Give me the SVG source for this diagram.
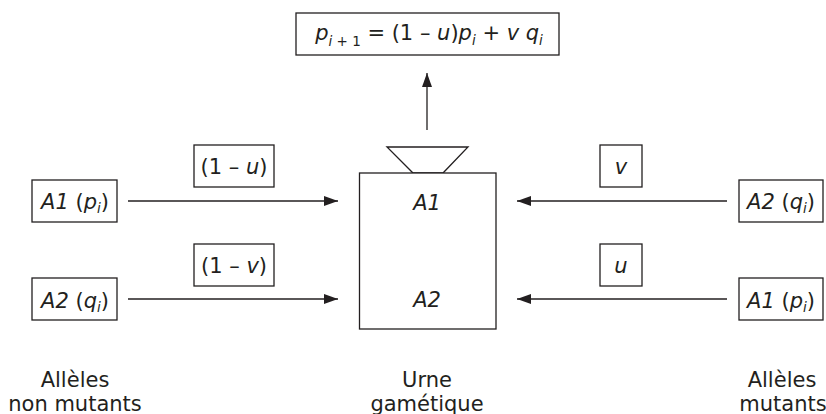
<svg xmlns="http://www.w3.org/2000/svg" width="826" height="414" viewBox="0 0 826 414">
<style>
.box{fill:#fff;stroke:#231f20;stroke-width:1.3}
.ln{stroke:#231f20;stroke-width:1.3;fill:none}
text{font-family:"DejaVu Sans","Noto Sans","Liberation Sans",sans-serif;font-size:21px;fill:#231f20;text-anchor:middle}
.it{font-style:italic}
.sub{font-size:13.5px;font-style:italic}
.up{font-style:normal}
</style>
<defs>
<marker id="ah" markerWidth="14" markerHeight="10" refX="14" refY="5" orient="auto" markerUnits="userSpaceOnUse">
<path d="M0,0 L14,5 L0,10 Z" fill="#231f20"/>
</marker>
</defs>
<g id="connectors">
<line class="ln" x1="128" y1="201" x2="338" y2="201" marker-end="url(#ah)"/>
<line class="ln" x1="128" y1="299" x2="338" y2="299" marker-end="url(#ah)"/>
<line class="ln" x1="727" y1="201" x2="517" y2="201" marker-end="url(#ah)"/>
<line class="ln" x1="727" y1="299" x2="517" y2="299" marker-end="url(#ah)"/>
<line class="ln" x1="427" y1="130" x2="427" y2="73" marker-end="url(#ah)"/>
</g>
<g id="formula">
<rect class="box" x="296" y="13" width="263" height="42"/>
<text x="429" y="40"><tspan class="it">p</tspan><tspan class="sub" dy="6">i<tspan class="up"> + 1</tspan></tspan><tspan dy="-6"> = (1 – </tspan><tspan class="it">u</tspan>)<tspan class="it">p</tspan><tspan class="sub" dy="5">i</tspan><tspan dy="-5"> + </tspan><tspan class="it">v q</tspan><tspan class="sub" dy="5">i</tspan></text>
</g>
<g id="urn">
<path class="ln" d="M387,147 L468,147 L443,173 L413,173 Z"/>
<rect class="box" x="359.5" y="173" width="136.5" height="156"/>
<text class="it" x="427" y="210">A1</text>
<text class="it" x="427" y="307">A2</text>
</g>
<g id="left-a1">
<rect class="box" x="32" y="180" width="85" height="42"/>
<text x="75" y="209"><tspan class="it">A1</tspan> (<tspan class="it">p</tspan><tspan class="sub" dy="4">i</tspan><tspan dy="-4">)</tspan></text>
</g>
<g id="left-a2">
<rect class="box" x="32" y="278" width="85" height="42"/>
<text x="75" y="307.5"><tspan class="it">A2</tspan> (<tspan class="it">q</tspan><tspan class="sub" dy="4">i</tspan><tspan dy="-4">)</tspan></text>
</g>
<g id="label-1-u">
<rect class="box" x="194" y="145" width="80" height="42"/>
<text x="234" y="174">(1 – <tspan class="it">u</tspan>)</text>
</g>
<g id="label-1-v">
<rect class="box" x="194" y="244" width="80" height="42"/>
<text x="234" y="273">(1 – <tspan class="it">v</tspan>)</text>
</g>
<g id="label-v">
<rect class="box" x="600" y="145" width="42" height="42"/>
<text class="it" x="621" y="174">v</text>
</g>
<g id="label-u">
<rect class="box" x="600" y="244" width="42" height="42"/>
<text class="it" x="621" y="273">u</text>
</g>
<g id="right-a2">
<rect class="box" x="739" y="180" width="84" height="42"/>
<text x="781" y="209"><tspan class="it">A2</tspan> (<tspan class="it">q</tspan><tspan class="sub" dy="4">i</tspan><tspan dy="-4">)</tspan></text>
</g>
<g id="right-a1">
<rect class="box" x="739" y="278" width="84" height="42"/>
<text x="781" y="307.5"><tspan class="it">A1</tspan> (<tspan class="it">p</tspan><tspan class="sub" dy="4">i</tspan><tspan dy="-4">)</tspan></text>
</g>
<g id="captions">
<text x="75" y="387">Allèles</text>
<text x="75" y="411">non mutants</text>
<text x="427" y="387">Urne</text>
<text x="427" y="411">gamétique</text>
<text x="782" y="387">Allèles</text>
<text x="783" y="411">mutants</text>
</g>
</svg>
